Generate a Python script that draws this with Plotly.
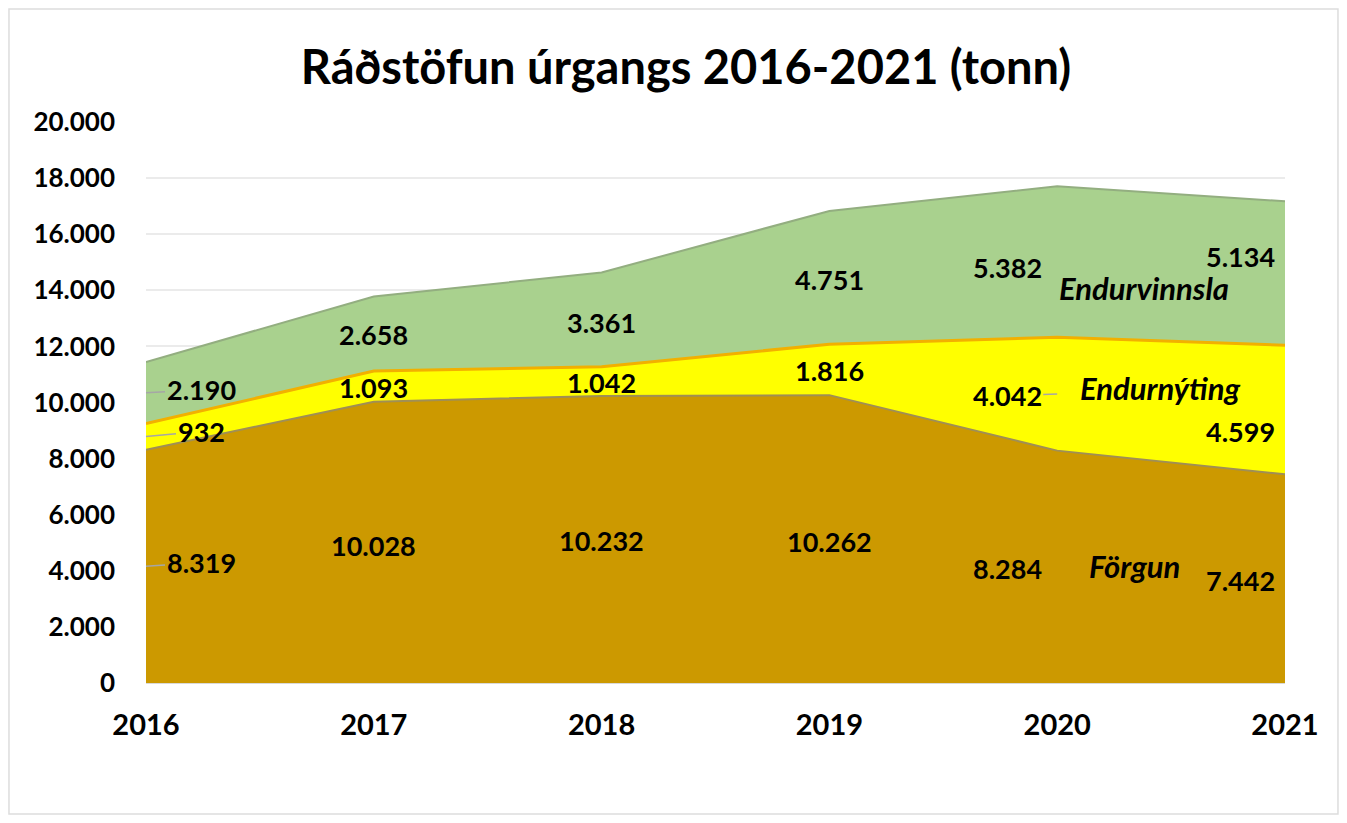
import plotly.graph_objects as go

years = [2016, 2017, 2018, 2019, 2020, 2021]
forgun = [8319, 10028, 10232, 10262, 8284, 7442]
endurnyting = [932, 1093, 1042, 1816, 4042, 4599]
endurvinnsla = [2190, 2658, 3361, 4751, 5382, 5134]
series_names = ["Förgun", "Endurnýting", "Endurvinnsla"]
title_text = "Ráðstöfun úrgangs 2016-2021 (tonn)"
y_ticks = list(range(0, 20001, 2000))

FONT = "Lato"
colors = ["#CC9900", "#FFFF00", "#A9D18E"]
edge_colors = ["#A08F55", "#F2B000", "#93AE80"]
edge_widths = [2, 3, 2]

# label pixel offsets (style only)
xshift_by_year = [55, 0, 0, 0, -50, -45]
yshifts = [
    [4, -3, -1, -2, -2, -2],
    [5, -1, -1, -1, -2, -22],
    [3, -1, -3, -2, -6, 17],
]
leader = [
    [True, False, False, False, False, False],
    [True, False, False, False, True, False],
    [True, False, False, False, False, False],
]

def fmt(v):
    return f"{v:,}".replace(",", ".")

fig = go.Figure()
all_series = [forgun, endurnyting, endurvinnsla]
for name, vals, c, ec, ew in zip(series_names, all_series, colors, edge_colors, edge_widths):
    fig.add_trace(go.Scatter(
        x=years, y=vals, name=name, stackgroup="one", mode="lines",
        line=dict(color=ec, width=ew), fillcolor=c, hoverinfo="x+y+name",
    ))

annotations = []
base = [0] * len(years)
for si, vals in enumerate(all_series):
    for i, (yr, v) in enumerate(zip(years, vals)):
        mid = base[i] + v / 2
        xs = xshift_by_year[i]
        ann = dict(
            x=yr, y=mid, text=f"<b>{fmt(v)}</b>", font=dict(family=FONT, size=27, color="#000000"),
            xref="x", yref="y",
        )
        if leader[si][i]:
            ann.update(showarrow=True, arrowhead=0, arrowwidth=1.5, arrowcolor="#A6A6A6",
                       ax=xs, ay=-yshifts[si][i], axref="pixel", ayref="pixel",
                       standoff=0, startstandoff=0)
        else:
            ann.update(showarrow=False, xshift=xs, yshift=yshifts[si][i])
        annotations.append(ann)
    base = [b + v for b, v in zip(base, vals)]

# series name labels
name_pos = [(2020.34, 4170), (2020.45, 10520), (2020.38, 14080)]
for name, (xx, yy) in zip(series_names, name_pos):
    annotations.append(dict(
        x=xx, y=yy, text=f"<b><i>{name}</i></b>", showarrow=False,
        font=dict(family=FONT, size=31, color="#000000"),
    ))

fig.update_layout(
    width=1331, height=807,
    paper_bgcolor="white", plot_bgcolor="white",
    margin=dict(l=138, r=54, t=114, b=132),
    showlegend=False,
    separators=",.",
    title=dict(text=f"<b>{title_text}</b>", x=0.5094, xanchor="center", y=0.9257, yanchor="middle",
               font=dict(family=FONT, size=47, color="#000000")),
    font=dict(family=FONT, color="#000000"),
    annotations=annotations,
    shapes=[dict(type="rect", xref="paper", yref="paper", x0=-0.1203, x1=1.0465,
                 y0=-0.2335, y1=1.2014, line=dict(color="#DDDDDD", width=1.5), layer="below")],
)
fig.update_xaxes(
    range=[2016, 2021], tickvals=years, ticktext=[f"<b>{y}</b>" for y in years],
    showgrid=False, zeroline=False, showline=False, automargin=False,
    tickfont=dict(family=FONT, size=29, color="#000000"), ticklen=0, ticks="",
    ticklabelstandoff=22,
)
fig.update_yaxes(
    range=[0, 20000], tickvals=y_ticks, ticktext=[f"<b>{fmt(t)}</b>" for t in y_ticks],
    showgrid=True, gridcolor="#EBEBEB", gridwidth=1.5, zeroline=True, zerolinecolor="#D9D9D9",
    zerolinewidth=1.5, tickfont=dict(family=FONT, size=26, color="#000000"), automargin=False,
    ticks="", ticklabelstandoff=30,
)
fig.write_html("out.html")
